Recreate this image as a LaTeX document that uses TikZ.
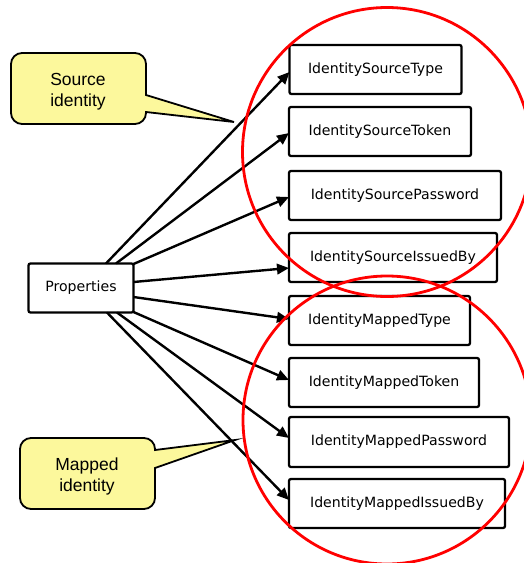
\documentclass[tikz,border=0pt]{standalone}
\usepackage{fontspec}
\setmainfont{DejaVu Sans}
\newfontfamily\calloutfont{Liberation Sans}
\usetikzlibrary{arrows.meta,calc}

\definecolor{noteyellow}{RGB}{252,248,156}
\definecolor{ringred}{RGB}{255,0,0}

\tikzset{
  field/.style={draw=black, line width=2.3pt, rounded corners=2pt, fill=white,
    inner sep=0pt, outer sep=0pt, anchor=center,
    font=\fontsize{14.1}{16}\selectfont},
  link/.style={line width=2.4pt, -{Triangle[length=12pt,width=10.5pt]}},
  note/.style={draw=black, line width=1.8pt, fill=noteyellow},
  notetext/.style={align=center, font=\calloutfont\fontsize{17.5}{21}\selectfont},
  ring/.style={draw=ringred, line width=2.8pt},
}

\begin{document}
\begin{tikzpicture}[x=1pt, y=-1pt]
\useasboundingbox (0,0) rectangle (524,563);
\clip (0,0) rectangle (524,563);

% speech bubbles
\draw[note] (146,95) -- (234,122) -- (146,112) -- (146,113) arc(0:90:11)
  -- (22,124) arc(90:180:11) -- (11,64) arc(180:270:11)
  -- (135,53) arc(270:360:11) -- cycle;
\node[notetext] (srcnote) at (78,92) {Source\\identity};

\draw[note] (155,468) -- (235,440) -- (155,450) -- (155,449) arc(0:-90:11)
  -- (31,438) arc(270:180:11) -- (20,498) arc(180:90:11)
  -- (144,509) arc(90:0:11) -- cycle;
\node[notetext] (mapnote) at (87,476) {Mapped\\identity};

% source node
\node[field, minimum width=105pt, minimum height=49pt] (prop) at (81,288) {Properties};

% property fields
\node[field, minimum width=172pt, minimum height=49pt] (b1) at (375.5,69.5)  {IdentitySourceType};
\node[field, minimum width=182pt, minimum height=49pt] (b2) at (380,131.5)   {IdentitySourceToken};
\node[field, minimum width=212pt, minimum height=49pt] (b3) at (395,195.5)   {IdentitySourcePassword};
\node[field, minimum width=208pt, minimum height=49pt] (b4) at (393,257.5)   {IdentitySourceIssuedBy};
\node[field, minimum width=181pt, minimum height=49pt] (b5) at (379.5,320.5) {IdentityMappedType};
\node[field, minimum width=190pt, minimum height=49pt] (b6) at (384,382.5)   {IdentityMappedToken};
\node[field, minimum width=220pt, minimum height=50pt] (b7) at (399,442)     {IdentityMappedPassword};
\node[field, minimum width=216pt, minimum height=49pt] (b8) at (397,503.5)   {IdentityMappedIssuedBy};

% connectors
\draw[link] ($(prop.north west)+(77.5,0)$) -- ($(b1.west)+(0,2.5)$);
\draw[link] ($(prop.north west)+(87.5,0)$) -- ($(b2.west)+(0,1.5)$);
\draw[link] ($(prop.north east)+(0,0.5)$)  -- ($(b3.west)+(0,1.5)$);
\draw[link] ($(prop.north east)+(0,18.5)$) -- ($(b4.west)+(0,10.5)$);
\draw[link] ($(prop.east)+(0,9)$)          -- ($(b5.west)+(0,-1.5)$);
\draw[link] ($(prop.south east)+(0,-0.5)$) -- ($(b6.west)+(0,-2.5)$);
\draw[link] ($(prop.south west)+(88.5,0)$) -- ($(b7.west)+(0,-4)$);
\draw[link] ($(prop.south west)+(78.5,0)$) -- ($(b8.west)+(0,-3.5)$);

% grouping rings
\draw[ring] (387,152) circle[radius=144.5pt];
\draw[ring] (387,420) circle[radius=144pt];
\end{tikzpicture}
\end{document}
